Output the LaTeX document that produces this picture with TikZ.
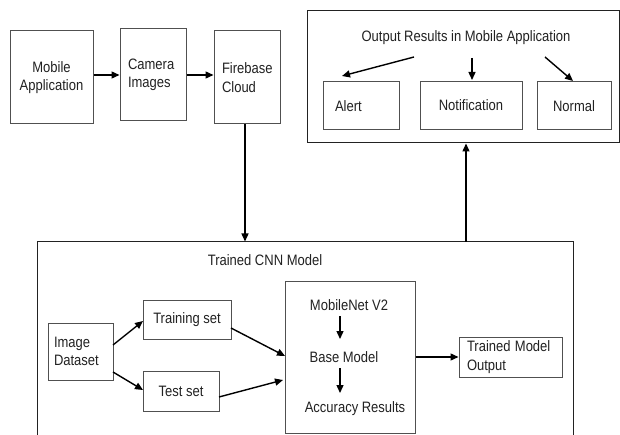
\documentclass[tikz,border=0pt]{standalone}
\usepackage{graphicx}
\usepackage{fontspec}
\setmainfont{Liberation Sans}
\usetikzlibrary{arrows.meta,calc}
\definecolor{boxline}{HTML}{505050}
\definecolor{ink}{HTML}{222222}
% labels are set slightly taller than the regular face
\newcommand{\tl}[1]{\scalebox{1}[1.16]{#1}}
\tikzset{
  every node/.style={font=\fontsize{13}{18.5}\selectfont, text=ink},
  box/.style={draw=boxline, line width=1pt, rectangle, inner sep=0pt, align=center},
  lbox/.style={draw=boxline, line width=1pt, rectangle, inner xsep=8pt, inner ysep=0pt, align=left},
  frame/.style={draw=ink, line width=1pt, rectangle, inner sep=0pt},
  flow/.style={draw=black, line width=1.4pt, -{Triangle[length=8pt,width=7pt]}},
  plain/.style={inner sep=0pt}
}
\begin{document}
\begin{tikzpicture}[x=1pt, y=-1pt]
\useasboundingbox (0,0) rectangle (620,435);
\clip (0,0) rectangle (620,435);
\fill[white] (0,0) rectangle (620,435);

% upper pipeline
\node[box, minimum width=83pt, minimum height=93pt] (mobapp) at (51.5,77.5) {\tl{Mobile}\\\tl{Application}};
\node[lbox, text width=50pt, minimum height=92pt] (camera) at (153,75) {\tl{Camera}\\\tl{Images}};
\node[lbox, text width=50pt, minimum height=93pt] (firebase) at (247,77.5) {\tl{Firebase}\\\tl{Cloud}};

% output panel
\node[frame, minimum width=312pt, minimum height=132pt] (outbox) at (463,77) {};
\node[plain] (outtitle) at (466,38) {\tl{Output Results in Mobile Application}};
\node[lbox, inner xsep=12pt, text width=52pt, minimum height=48pt] (alert) at (361,106) {\tl{Alert}};
\node[box, minimum width=102pt, minimum height=48pt] (notif) at (471,106) {\raisebox{2pt}{\tl{Notification}}};
\node[box, minimum width=74pt, minimum height=48pt] (normal) at (574,106) {\tl{Normal}};

% model panel
\node[frame, minimum width=536pt, minimum height=210pt] (cnn) at (305,347) {};
\node[plain] (cnntitle) at (265,260) {\tl{Trained CNN Model}};
\node[lbox, inner xsep=6pt, text width=53pt, minimum height=57pt] (imgds) at (80.5,351.5) {\tl{Image}\\\tl{Dataset}};
\node[box, minimum width=88pt, minimum height=39pt] (train) at (187,319.5) {\tl{Training set}};
\node[box, minimum width=76pt, minimum height=40pt] (test) at (181,391) {\tl{Test set}};
\node[box, minimum width=130pt, minimum height=152pt] (model) at (350,357) {};
\node[plain] (mnet) at (349,305) {\tl{MobileNet V2}};
\node[plain] (base) at (344,357) {\tl{Base Model}};
\node[plain] (acc) at (355,409) {\tl{Accuracy Results}};
\node[lbox, text width=87pt, minimum height=40pt] (tmo) at (510.5,357) {\tl{Trained Model}\\\tl{Output}};

% free ends of connectors
\coordinate (alertS) at (414,57);
\coordinate (alertE) at (342,76);
\coordinate (normS) at (545,57);
\coordinate (normE) at (573,81);
\coordinate (notifS) at (472,58);
\coordinate (notifE) at (472,80);
\coordinate (upS) at (466,242);
\coordinate (dsTop) at (113,345);
\coordinate (dsBot) at (113,372);
\coordinate (trOut) at (231,328);
\coordinate (teOut) at (219,397);
\coordinate (mTop) at (285,356);
\coordinate (mBot) at (283,380);
\coordinate (trIn) at (143,321);
\coordinate (teIn) at (143,390);
\coordinate (a1s) at (340,316);
\coordinate (a1e) at (340,339);
\coordinate (a2s) at (340,368);
\coordinate (a2e) at (340,393);

% connectors
\draw[flow] (mobapp.east |- camera.west) -- (camera.west);
\draw[flow] (camera.east) -- (camera.east -| firebase.west);
\draw[flow] (firebase.south -| 245,0) -- (cnn.north -| 245,0);
\draw[flow] (upS) -- (upS |- outbox.south);
\draw[flow] (alertS) -- (alertE);
\draw[flow] (notifS) -- (notifE);
\draw[flow] (normS) -- (normE);
\draw[flow] (dsTop) -- (trIn);
\draw[flow] (dsBot) -- (teIn);
\draw[flow] (trOut) -- (mTop);
\draw[flow] (teOut) -- (mBot);
\draw[flow] (a1s) -- (a1e);
\draw[flow] (a2s) -- (a2e);
\draw[flow] (model.east) -- (tmo.west);
\end{tikzpicture}
\end{document}
